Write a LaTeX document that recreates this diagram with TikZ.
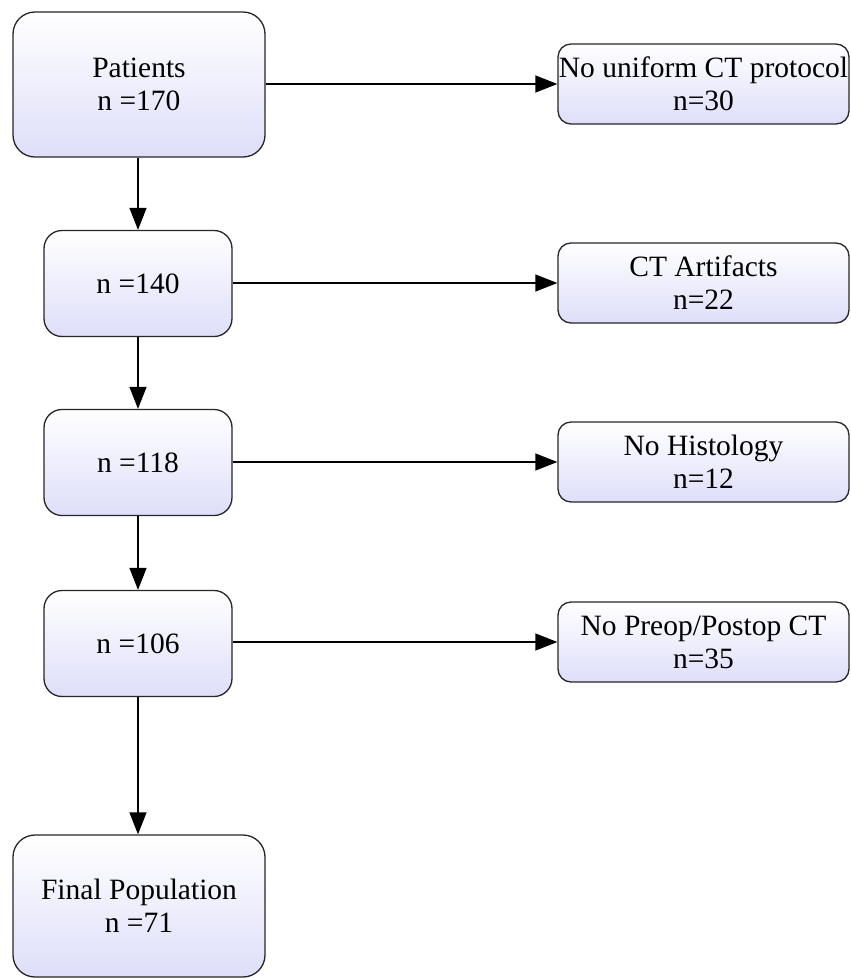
\documentclass[tikz,border=0pt]{standalone}
\usepackage{fontspec}
\setmainfont{Liberation Serif}
\usetikzlibrary{arrows.meta}
\definecolor{lav}{RGB}{222,222,250}
\tikzset{
  boxbase/.style={draw=black!85, line width=1.3pt, top color=white, bottom color=lav,
    align=center, font=\fontsize{29.5}{33}\selectfont, inner sep=0pt},
  bigbox/.style={boxbase, minimum width=252pt, minimum height=145pt, rounded corners=22pt},
  midbox/.style={boxbase, minimum width=188pt, minimum height=106pt, rounded corners=18pt},
  sidebox/.style={boxbase, minimum width=291pt, minimum height=80pt, rounded corners=13pt},
  arr/.style={line width=1.3pt, -{Triangle[length=22pt,width=17pt]}}
}
\begin{document}
\begin{tikzpicture}[x=1pt,y=-1pt]
\useasboundingbox (0,0) rectangle (851,978);
\node[bigbox] (p) at (139,84.5) {Patients\\n =170};
\node[midbox] (b2) at (138,283.5) {n =140};
\node[midbox] (b3) at (138,462.5) {n =118};
\node[midbox] (b4) at (138,643.5) {n =106};
\node[bigbox, minimum height=142pt] (f) at (139,906) {Final Population\\n =71};
\node[sidebox] (r1) at (703.5,84) {No uniform CT protocol\\n=30};
\node[sidebox] (r2) at (703.5,283) {CT Artifacts\\n=22};
\node[sidebox] (r3) at (703.5,462) {No Histology\\n=12};
\node[sidebox] (r4) at (703.5,642) {No Preop/Postop CT\\n=35};
\draw[arr] (p.south -| b2.north) -- (b2.north);
\draw[arr] (b2) -- (b3);
\draw[arr] (b3) -- (b4);
\draw[arr] (b4.south) -- (b4.south |- f.north);
\draw[arr] (p.east |- r1.west) -- (r1.west);
\draw[arr] (b2.east |- r2.west) -- (r2.west);
\draw[arr] (b3.east |- r3.west) -- (r3.west);
\draw[arr] (b4.east |- r4.west) -- (r4.west);
\end{tikzpicture}
\end{document}
